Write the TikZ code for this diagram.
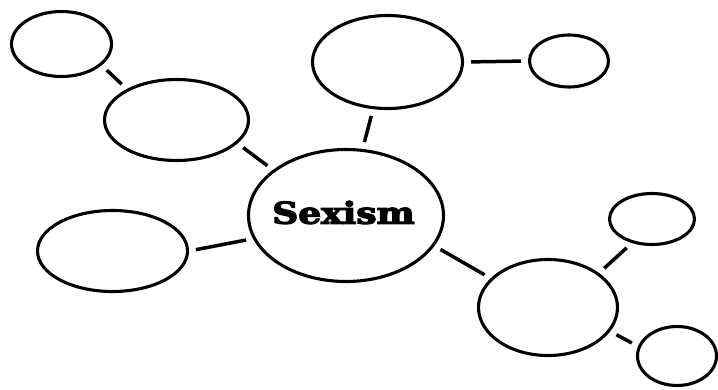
\documentclass[tikz,border=0pt]{standalone}
\usepackage{fontspec}
\usetikzlibrary{shapes.geometric}
\newfontfamily\slabfont[BoldFeatures={FakeBold=4}]{DejaVu Serif}
\begin{document}
\begin{tikzpicture}[x=1pt,y=-1pt,
  bubble/.style={draw, ellipse, line width=3.1pt, inner sep=0pt},
  link/.style={line width=3.5pt, shorten <=7pt, shorten >=7pt}]
\useasboundingbox[fill=white] (0,0) rectangle (718,389);
\node[bubble, minimum width=100pt, minimum height=65pt] (a) at (61.5,44) {};
\node[bubble, minimum width=144pt, minimum height=81pt] (b) at (176.5,120) {};
\node[bubble, minimum width=150pt, minimum height=93pt] (c) at (387.5,62) {};
\node[bubble, minimum width=79pt, minimum height=52pt] (d) at (569,61) {};
\node[bubble, minimum width=195pt, minimum height=132pt] (s) at (346,215.5) {};
\node[font=\slabfont\bfseries\fontsize{30}{32}\selectfont, inner sep=0pt] (lbl) at (343.5,212.5) {\scalebox{1.2}[1]{Sexism}};
\node[bubble, minimum width=150pt, minimum height=81pt] (e) at (112.5,251) {};
\node[bubble, minimum width=139pt, minimum height=96pt] (f) at (548,307.5) {};
\node[bubble, minimum width=85pt, minimum height=51pt] (g) at (652,219) {};
\node[bubble, minimum width=79pt, minimum height=59pt] (h) at (677,356) {};
\draw[link] (a.-28) -- (b.148);
\draw[link] (b.-21) -- (s.148);
\draw[link] (c.-107) -- (s.76);
\draw[link] (c.0) -- (d.180);
\draw[link] (e.0) -- (s.194);
\draw[link] (s.-19) -- (f.153);
\draw[link] (f.34) -- (g.-130);
\draw[link] (f.-21) -- (h.166);
\end{tikzpicture}
\end{document}
